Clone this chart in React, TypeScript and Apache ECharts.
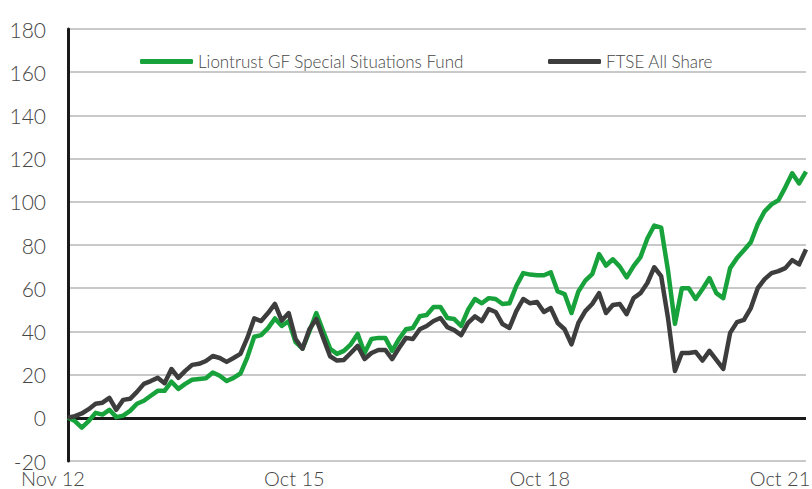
import React, { useEffect, useRef } from "react";
import * as echarts from "echarts";

const seriesNames = ["Liontrust GF Special Situations Fund", "FTSE All Share"];

const monthNames = ["Jan", "Feb", "Mar", "Apr", "May", "Jun", "Jul", "Aug", "Sep", "Oct", "Nov", "Dec"];
const startYear = 2012;
const startMonth = 10; // Nov
const monthCount = 108;
const categories: string[] = [];
for (let i = 0; i < monthCount; i++) {
  const m = (startMonth + i) % 12;
  const y = startYear + Math.floor((startMonth + i) / 12);
  categories.push(`${monthNames[m]} ${String(y).slice(2)}`);
}

const xTickLabels = ["Nov 12", "Oct 15", "Oct 18", "Oct 21"];

const fund = [
  0, -1.5, -4.5, -1.5, 2.3, 1.5, 3.7, 0.3, 1, 3.2,
  6.5, 7.9, 10.2, 12.5, 12.5, 16.7, 13.4, 15.7, 17.6, 18,
  18.3, 21, 19.5, 17, 18.5, 20.5, 28, 37.5, 38.3, 41.5,
  46, 42.5, 44.8, 35, 32, 40, 48.5, 40, 32, 29.6,
  31, 34, 38.8, 30, 36.5, 37, 37, 31, 36.5, 41,
  41.6, 47, 47.6, 51.3, 51.3, 46.2, 45.7, 42.5, 50, 55,
  53, 55.4, 55, 52.7, 53, 61, 67, 66.3, 66, 66,
  67.3, 58.5, 57.3, 48.5, 58.5, 63.5, 66.5, 75.8, 70.5, 73.4,
  70, 65, 70.2, 74.4, 83, 89, 88, 68, 43.5, 60,
  60, 55, 59.6, 64.7, 57.7, 55.4, 69.3, 74, 77.6, 81.3,
  89.6, 95.6, 98.8, 100.7, 106.7, 113.2, 108.5, 114,
];

const ftse = [
  0, 0.8, 2, 4, 6.5, 7, 9.2, 3.7, 8.3, 8.8,
  12, 15.7, 17, 18.5, 16, 22.6, 18.5, 21.7, 24.5, 25,
  26.3, 28.6, 27.7, 25.9, 27.7, 29.6, 37, 46, 44.8, 48.5,
  52.7, 45, 48.5, 36.5, 32, 41, 45.7, 37, 28.5, 26.5,
  26.8, 30, 33.3, 27.2, 30, 31.4, 31.4, 27.2, 32.3, 37,
  36.5, 41, 42.5, 44.8, 46.2, 42, 40.6, 38.3, 43.9, 47,
  44.8, 50.3, 49, 43.4, 41.6, 49.4, 55, 53, 53.6, 49,
  50.8, 43.9, 41, 34, 43.9, 49.4, 52.7, 57.7, 48.5, 52.2,
  52.7, 48, 55.4, 57.7, 62.4, 69.7, 65.6, 46, 21.7, 30,
  30, 30.5, 26.5, 31, 26.8, 22.6, 39.3, 44.3, 45.3, 50.8,
  60, 64.2, 67, 67.9, 69.3, 73, 71, 78,
];

const GREEN = "#17a23b";
const DARK = "#3d3d3d";
const TEXT = "#454545";
const FONT = "Lato";

// horizontal shift (px, leftwards) of each x tick label
const labelShift: Record<string, number> = { "Nov 12": 15, "Oct 15": 15, "Oct 18": 18, "Oct 21": 26 };

export default function App() {
  const ref = useRef<HTMLDivElement>(null);
  useEffect(() => {
    if (!ref.current) return;
    const chart = echarts.init(ref.current, null, { renderer: "svg" });
    const rich: Record<string, any> = {};
    xTickLabels.forEach((t, k) => {
      rich["s" + k] = {
        fontFamily: FONT,
        fontWeight: 300,
        fontSize: 20,
        lineHeight: 20,
        color: TEXT,
        padding: [0, labelShift[t] * 2, 0, 0],
      };
    });
    const legendBase = {
      top: 53,
      padding: 0,
      icon: "roundRect",
      itemWidth: 53,
      itemHeight: 5,
      textStyle: { fontFamily: FONT, fontWeight: 300, fontSize: 17, color: TEXT },
    };
    chart.setOption({
      animation: false,
      backgroundColor: "#ffffff",
      textStyle: { fontFamily: FONT },
      grid: {
        left: 68,
        right: 6,
        top: 29,
        bottom: 28,
        containLabel: false,
        outerBoundsMode: "none",
      },
      legend: [
        { ...legendBase, data: [seriesNames[0]], left: 140 },
        { ...legendBase, data: [seriesNames[1]], left: 548 },
      ],
      xAxis: {
        type: "category",
        data: categories,
        boundaryGap: false,
        axisLine: { show: false, onZero: false },
        axisTick: { show: false },
        splitLine: { show: false },
        axisLabel: {
          interval: (index: number, value: string) => xTickLabels.includes(value) && (index === 0 || value.startsWith("Oct")),
          margin: 7,
          formatter: (value: string) => {
            const k = xTickLabels.indexOf(value);
            return k >= 0 ? `{s${k}|${value}}` : "";
          },
          rich,
        },
      },
      yAxis: {
        type: "value",
        min: -20,
        max: 180,
        interval: 20,
        axisLine: { show: true, lineStyle: { color: "#1a1a1a", width: 3 } },
        axisTick: { show: false },
        axisLabel: {
          margin: 22,
          fontFamily: FONT,
          fontWeight: 300,
          fontSize: 21,
          color: TEXT,
        },
        splitLine: { show: true, lineStyle: { color: "#c9c9c9", width: 2 } },
      },
      series: [
        {
          name: seriesNames[0],
          type: "line",
          data: fund,
          showSymbol: false,
          symbol: "none",
          lineStyle: { color: GREEN, width: 4.5, join: "round" },
          itemStyle: { color: GREEN },
          markLine: {
            silent: true,
            symbol: "none",
            label: { show: false },
            lineStyle: { color: "#1a1a1a", width: 3, type: "solid" },
            data: [{ yAxis: 0 }],
            z: 1,
          },
        },
        {
          name: seriesNames[1],
          type: "line",
          data: ftse,
          showSymbol: false,
          symbol: "none",
          lineStyle: { color: DARK, width: 4.5, join: "round" },
          itemStyle: { color: DARK },
        },
      ],
    });
    return () => chart.dispose();
  }, []);
  return (
    <div
      ref={ref}
      style={{ position: "absolute", left: 0, top: 0, width: 812, height: 489, background: "#fff" }}
    />
  );
}
